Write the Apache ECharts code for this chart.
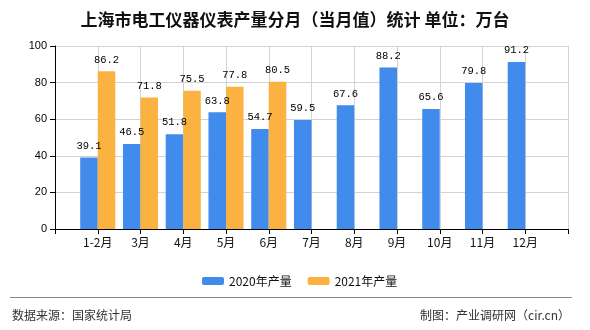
<!DOCTYPE html>
<html>
<head>
<meta charset="utf-8">
<script src="https://cdn.jsdelivr.net/npm/echarts@6/dist/echarts.min.js"></script>
<style>
  html, body { margin: 0; padding: 0; background: #fff; }
  #chart { width: 590px; height: 330px; }
</style>
</head>
<body>
<div id="chart"></div>
<script>
// Monthly output, 10k units
const months = ['1-2月', '3月', '4月', '5月', '6月', '7月', '8月', '9月', '10月', '11月', '12月'];
const output2020 = [39.1, 46.5, 51.8, 63.8, 54.7, 59.5, 67.6, 88.2, 65.6, 79.8, 91.2];
const output2021 = [86.2, 71.8, 75.5, 77.8, 80.5];
const seriesNames = ['2020年产量', '2021年产量'];
const yTicks = { min: 0, max: 100, interval: 20 };

// Half-slot padding on both ends of the category axis
const axisCats = [''].concat(months, ['']);
const pad = (arr) => ['-'].concat(months.map((_, i) => (i < arr.length ? arr[i] : '-')), ['-']);

const labelFont = 'Liberation Mono';
const cjkFont = '"Noto Sans CJK SC", "Liberation Sans", sans-serif';

const chart = echarts.init(document.getElementById('chart'), null, { renderer: 'canvas' });
chart.setOption({
  animation: false,
  backgroundColor: '#fff',
  title: {
    text: '上海市电工仪器仪表产量分月（当月值）统计 单位：万台',
    left: 'center',
    top: 6,
    textStyle: { fontFamily: cjkFont, fontSize: 17, fontWeight: 'bold', color: '#111' }
  },
  legend: {
    data: seriesNames,
    left: 197,
    top: 270,
    itemWidth: 22,
    itemHeight: 8,
    itemGap: 16,
    textStyle: { fontFamily: cjkFont, fontSize: 12, color: '#111' }
  },
  grid: { left: 55, right: 22, top: 46, bottom: 101, containLabel: false, outerBoundsMode: 'none' },
  xAxis: {
    type: 'category',
    data: axisCats,
    boundaryGap: false,
    axisLine: { lineStyle: { color: '#000', width: 1 } },
    axisTick: { show: true, length: 5, lineStyle: { color: '#000' } },
    axisLabel: { interval: 0, fontFamily: cjkFont, fontSize: 12, color: '#111', margin: 7 },
    splitLine: { show: true, lineStyle: { color: '#d3d3d3', width: 1 } }
  },
  yAxis: {
    type: 'value',
    min: yTicks.min,
    max: yTicks.max,
    interval: yTicks.interval,
    axisLine: { show: true, lineStyle: { color: '#000', width: 1 } },
    axisTick: { show: true, length: 5, lineStyle: { color: '#000' } },
    axisLabel: { fontFamily: 'Liberation Sans, sans-serif', fontSize: 11, color: '#000', margin: 8 },
    splitLine: { show: true, lineStyle: { color: '#d3d3d3', width: 1 } }
  },
  series: [
    {
      name: seriesNames[0],
      type: 'bar',
      data: pad(output2020),
      barGap: '0%',
      barCategoryGap: '18%',
      itemStyle: { color: '#418bed' },
      label: { show: true, position: 'top', distance: 6, fontFamily: labelFont, fontSize: 10.5, color: '#000' }
    },
    {
      name: seriesNames[1],
      type: 'bar',
      data: pad(output2021),
      barGap: '0%',
      barCategoryGap: '18%',
      itemStyle: { color: '#fbb240' },
      label: { show: true, position: 'top', distance: 6, fontFamily: labelFont, fontSize: 10.5, color: '#000' }
    }
  ],
  graphic: [
    {
      type: 'line',
      shape: { x1: 10, y1: 297.5, x2: 572, y2: 297.5 },
      style: { stroke: '#888', lineWidth: 1 }
    },
    {
      type: 'text',
      left: 12,
      top: 309,
      style: { text: '数据来源：国家统计局', fontFamily: cjkFont, fontSize: 12, fill: '#333' }
    },
    {
      type: 'text',
      right: 20,
      top: 309,
      style: { text: '制图：产业调研网（cir.cn）', fontFamily: cjkFont, fontSize: 12, fill: '#333' }
    }
  ]
});
</script>
</body>
</html>
